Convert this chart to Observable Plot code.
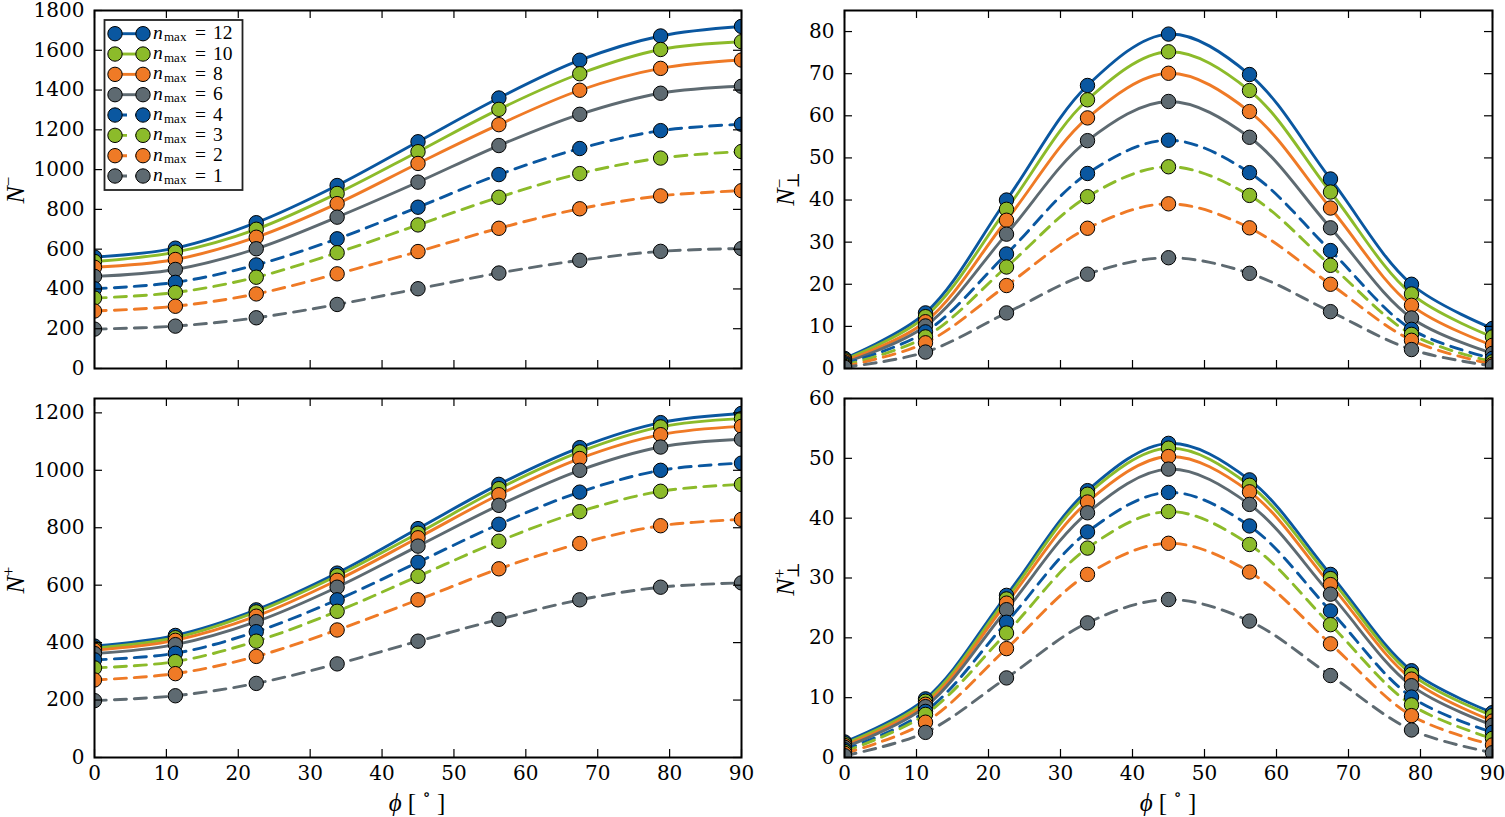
<!DOCTYPE html>
<html>
<head>
<meta charset="utf-8">
<script src="https://cdn.jsdelivr.net/npm/d3@7"></script>
<script src="https://cdn.jsdelivr.net/npm/@observablehq/plot@0.6"></script>
<style>
  body { margin: 0; background: white; }
  #fig { position: relative; width: 1505px; height: 817px; background: white; overflow: hidden; }
  .panel { position: absolute; }
  .lab { position: absolute; font-family: "Liberation Serif", "DejaVu Serif", serif; font-size: 26px; color: black; white-space: nowrap; line-height: 1; }
  .ylab { transform: translate(-50%, -50%) rotate(-90deg); }
  .xlab { transform: translate(-50%, -50%); font-size: 25px; }
  .lab i { font-style: italic; }
  .lab sup { font-size: 17px; vertical-align: 0.6em; line-height: 0; }
  .stack { display: inline-block; vertical-align: -0.3em; line-height: 0.85; font-size: 17px; text-align: left; }
  .stack span { display: block; }
</style>
</head>
<body>
<div id="fig"></div>
<script>
// ---------------- data ----------------
const phi = [0, 11.25, 22.5, 33.75, 45, 56.25, 67.5, 78.75, 90];
const nmax = [12, 10, 8, 6, 4, 3, 2, 1];
const seriesColors = ["#0a57a0", "#8cbb2a", "#ef7a26", "#5e6a71", "#0a57a0", "#8cbb2a", "#ef7a26", "#5e6a71"];
const dashed = [false, false, false, false, true, true, true, true];

const xTicks = [0, 10, 20, 30, 40, 50, 60, 70, 80, 90];

// N^-
const nMinus = [
  [560, 605, 733, 920, 1140, 1360, 1550, 1672, 1720],
  [538, 585, 700, 880, 1090, 1303, 1482, 1604, 1643],
  [509, 548, 660, 829, 1031, 1226, 1399, 1509, 1551],
  [463, 498, 602, 761, 937, 1121, 1278, 1384, 1419],
  [401, 433, 521, 652, 811, 975, 1106, 1196, 1228],
  [354, 382, 459, 582, 722, 861, 980, 1058, 1091],
  [289, 313, 375, 476, 588, 705, 803, 868, 894],
  [198, 213, 255, 322, 401, 480, 544, 589, 603]
];
const yTicksNMinus = [0, 200, 400, 600, 800, 1000, 1200, 1400, 1600, 1800];

// N_perp^-
const nPerpMinus = [
  [2.4, 13.2, 40.0, 67.2, 79.4, 69.8, 45.0, 20.0, 9.5],
  [2.1, 12.3, 37.8, 63.8, 75.2, 66.0, 41.9, 17.7, 7.5],
  [1.8, 11.1, 35.2, 59.5, 70.1, 61.0, 38.1, 15.0, 5.5],
  [1.4, 10.1, 31.9, 54.1, 63.4, 54.9, 33.4, 12.0, 3.6],
  [1.1, 8.7, 27.2, 46.3, 54.2, 46.5, 28.0, 9.3, 2.4],
  [0.8, 7.5, 24.1, 40.8, 47.9, 41.1, 24.5, 8.1, 1.6],
  [0.5, 6.1, 19.7, 33.3, 39.1, 33.4, 20.0, 6.7, 1.0],
  [0.3, 3.9, 13.2, 22.4, 26.3, 22.6, 13.5, 4.5, 0.6]
];
const yTicksNPerpMinus = [0, 10, 20, 30, 40, 50, 60, 70, 80];

// N^+
const nPlus = [
  [388, 425, 514, 642, 797, 951, 1079, 1166, 1198],
  [381, 417, 507, 633, 781, 936, 1064, 1151, 1180],
  [374, 408, 492, 617, 765, 915, 1041, 1124, 1153],
  [362, 393, 473, 593, 736, 878, 1000, 1081, 1108],
  [340, 363, 438, 549, 680, 812, 924, 1000, 1025],
  [312, 334, 405, 509, 631, 753, 856, 927, 951],
  [270, 292, 352, 444, 549, 657, 745, 807, 829],
  [198, 215, 258, 326, 405, 481, 549, 593, 608]
];
const yTicksNPlus = [0, 200, 400, 600, 800, 1000, 1200];

// N_perp^+
const nPerpPlus = [
  [2.6, 9.8, 27.1, 44.6, 52.5, 46.4, 30.6, 14.5, 7.5],
  [2.3, 9.4, 26.5, 44.0, 51.7, 45.5, 29.9, 13.9, 7.0],
  [2.0, 8.9, 25.8, 42.7, 50.3, 44.4, 28.9, 13.1, 6.1],
  [1.7, 8.5, 24.7, 40.9, 48.2, 42.3, 27.3, 12.0, 5.4],
  [1.3, 7.7, 22.6, 37.7, 44.3, 38.7, 24.5, 10.1, 4.2],
  [1.0, 7.2, 20.8, 35.0, 41.1, 35.6, 22.2, 8.8, 3.2],
  [0.7, 5.9, 18.2, 30.6, 35.8, 31.0, 19.0, 7.0, 2.1],
  [0.3, 4.2, 13.3, 22.5, 26.4, 22.8, 13.7, 4.6, 0.8]
];
const yTicksNPerpPlus = [0, 10, 20, 30, 40, 50, 60];

// ---------------- drawing ----------------
const fig = document.getElementById("fig");
const DASH = "12,8";
const LW = 2.9;

function panel({values, yDomain, yTicks, showX, left, top, width, height, margin}) {
  const rows = [];
  values.forEach((vals, s) => vals.forEach((v, j) => rows.push({phi: phi[j], v, s, color: seriesColors[s]})));
  const innerW = width - margin.left - margin.right;
  const innerH = height - margin.top - margin.bottom;
  const marks = [];
  values.forEach((vals, s) => {
    marks.push(Plot.line(rows.filter(d => d.s === s), {
      x: "phi", y: "v", stroke: seriesColors[s], strokeWidth: LW,
      strokeDasharray: dashed[s] ? DASH : null, curve: "catmull-rom", clip: true
    }));
  });
  marks.push(Plot.dot(rows, {x: "phi", y: "v", r: 7.2, fill: "color", stroke: "black", strokeWidth: 1, clip: true}));
  // inward ticks on all four sides
  marks.push(Plot.tickY(yTicks, {y: d => d, insetRight: innerW - 8, stroke: "black", strokeWidth: 1.2}));
  marks.push(Plot.tickY(yTicks, {y: d => d, insetLeft: innerW - 8, stroke: "black", strokeWidth: 1.2}));
  marks.push(Plot.tickX(xTicks, {x: d => d, insetTop: innerH - 8, stroke: "black", strokeWidth: 1.2}));
  marks.push(Plot.tickX(xTicks, {x: d => d, insetBottom: innerH - 8, stroke: "black", strokeWidth: 1.2}));
  marks.push(Plot.frame({stroke: "black", strokeWidth: 2}));
  marks.push(Plot.axisY({ticks: yTicks, tickSize: 0, tickPadding: 10, label: null, tickFormat: d => String(d)}));
  if (showX) marks.push(Plot.axisX({ticks: xTicks, tickSize: 0, tickPadding: 8, label: null, tickFormat: d => String(d)}));
  const p = Plot.plot({
    width, height,
    marginLeft: margin.left, marginRight: margin.right, marginTop: margin.top, marginBottom: margin.bottom,
    x: {domain: [0, 90], axis: showX ? undefined : null},
    y: {domain: yDomain},
    color: {type: "identity"},
    style: {fontFamily: "DejaVu Serif", fontSize: "20px", color: "black", background: "transparent", overflow: "visible"},
    marks
  });
  p.classList.add("panel");
  p.style.left = left + "px";
  p.style.top = top + "px";
  fig.appendChild(p);
}

panel({values: nMinus, yDomain: [0, 1800], yTicks: yTicksNMinus, showX: false,
  left: 0, top: 0, width: 752, height: 380, margin: {left: 94, right: 11, top: 10, bottom: 12}});
panel({values: nPerpMinus, yDomain: [0, 85], yTicks: yTicksNPerpMinus, showX: false,
  left: 752, top: 0, width: 753, height: 380, margin: {left: 92, right: 13, top: 10, bottom: 12}});
panel({values: nPlus, yDomain: [0, 1250], yTicks: yTicksNPlus, showX: true,
  left: 0, top: 380, width: 752, height: 437, margin: {left: 94, right: 11, top: 18, bottom: 60}});
panel({values: nPerpPlus, yDomain: [0, 60], yTicks: yTicksNPerpPlus, showX: true,
  left: 752, top: 380, width: 753, height: 437, margin: {left: 92, right: 13, top: 18, bottom: 60}});

// ---------------- legend (top-left panel) ----------------
const lg = d3.select(fig).append("svg")
  .attr("width", 260).attr("height", 200)
  .style("position", "absolute").style("left", "0px").style("top", "0px");
lg.append("rect").attr("x", 104.5).attr("y", 20).attr("width", 138).attr("height", 170)
  .attr("fill", "white").attr("stroke", "#222").attr("stroke-width", 1.8);
nmax.forEach((n, i) => {
  const y = 33.7 + i * 20.33;
  const g = lg.append("g");
  g.append("line").attr("x1", 115).attr("x2", 143).attr("y1", y).attr("y2", y)
    .attr("stroke", seriesColors[i]).attr("stroke-width", LW)
    .attr("stroke-dasharray", dashed[i] ? DASH : null);
  [115, 143].forEach(cx => g.append("circle").attr("cx", cx).attr("cy", y).attr("r", 7.2)
    .attr("fill", seriesColors[i]).attr("stroke", "black").attr("stroke-width", 1));
  const ff = "Liberation Serif, serif";
  g.append("text").attr("x", 153).attr("y", y + 5).attr("font-family", ff).attr("font-size", 19.5)
    .attr("font-style", "italic").attr("fill", "black").text("n");
  g.append("text").attr("x", 164).attr("y", y + 7.5).attr("font-family", ff).attr("font-size", 13)
    .attr("fill", "black").text("max");
  g.append("text").attr("x", 195).attr("y", y + 5.5).attr("font-family", ff).attr("font-size", 19.5)
    .attr("fill", "black").text("=");
  g.append("text").attr("x", 213).attr("y", y + 5.5).attr("font-family", ff).attr("font-size", 19.5)
    .attr("fill", "black").text(String(n));
});

// ---------------- axis labels ----------------
function addLabel(html, x, y, cls) {
  const d = document.createElement("div");
  d.className = "lab " + cls;
  d.style.left = x + "px";
  d.style.top = y + "px";
  d.innerHTML = html;
  fig.appendChild(d);
}
addLabel('<i>N</i><sup>−</sup>', 16, 190, "ylab");
addLabel('<i>N</i><sup>+</sup>', 16, 580, "ylab");
addLabel('<i>N</i><span class="stack"><span>−</span><span>⊥</span></span>', 787, 189, "ylab");
addLabel('<i>N</i><span class="stack"><span>+</span><span>⊥</span></span>', 787, 579, "ylab");
addLabel('<i>ϕ</i> [ <sup>∘</sup> ]', 417, 802, "xlab");
addLabel('<i>ϕ</i> [ <sup>∘</sup> ]', 1168, 802, "xlab");
</script>
</body>
</html>
